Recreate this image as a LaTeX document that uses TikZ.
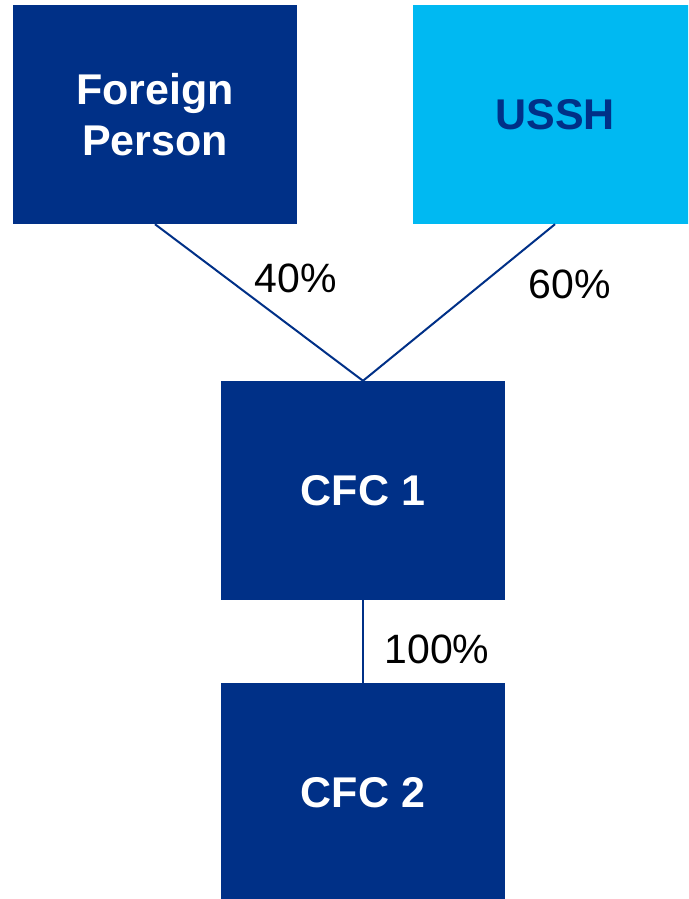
\documentclass[tikz,border=0pt]{standalone}
\usepackage{fontspec}
\setmainfont{Liberation Sans}
\definecolor{navy}{HTML}{003087}
\definecolor{sky}{HTML}{00B9F2}
\begin{document}
\begin{tikzpicture}[x=1pt,y=-1pt,
  entity/.style={rectangle, minimum width=284pt, minimum height=219pt, inner sep=0pt,
    align=center, font=\fontsize{43}{51}\selectfont\bfseries},
  darkbox/.style={entity, fill=navy, text=white},
  lightbox/.style={entity, fill=sky, text=navy},
  link/.style={draw=navy, line width=2pt},
  share/.style={font=\fontsize{41}{48}\selectfont, text=black, inner sep=0pt}]
\clip (0,0) rectangle (688,899);
\useasboundingbox (0,0) rectangle (688,899);
\fill[white] (0,0) rectangle (688,899);
\node[darkbox] (fp) at (155,114.5) {Foreign\\Person};
\node[lightbox] (ussh) at (555,114.5) {USSH};
\node[darkbox] (cfc1) at (363,490.5) {CFC 1};
\node[darkbox] (cfc2) at (363,792.5) {CFC 2};
\draw[link] (fp.south) -- (cfc1.north);
\draw[link] (ussh.south) -- (cfc1.north);
\draw[link] (cfc1.south) -- (cfc2.north);
\node[share] (p40) at (296,278) {40\%};
\node[share] (p60) at (570,284) {60\%};
\node[share] (p100) at (437,649) {100\%};
\end{tikzpicture}
\end{document}
